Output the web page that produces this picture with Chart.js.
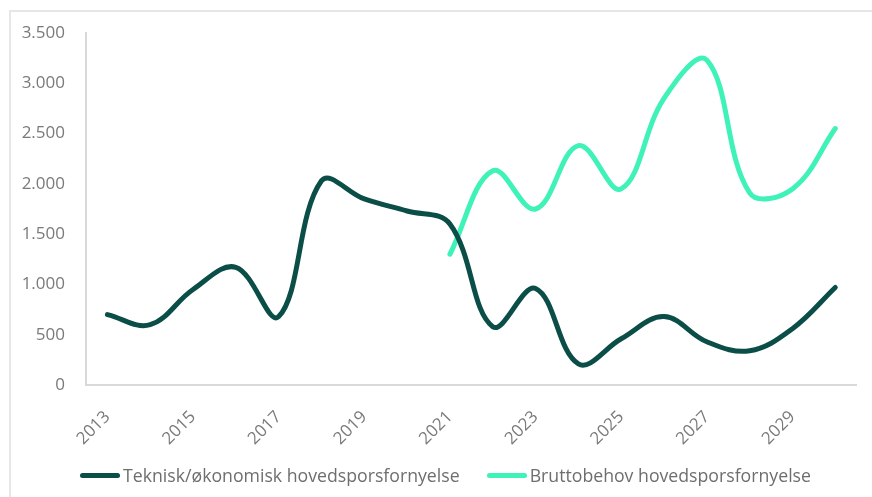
<!DOCTYPE html>
<html>
<head>
<meta charset="utf-8">
<script src="https://cdn.jsdelivr.net/npm/chart.js@4/dist/chart.umd.min.js"></script>
<style>
  html, body { margin: 0; padding: 0; background: #fff; }
  #wrap { position: relative; width: 872px; height: 497px; overflow: hidden; }
  #frame { position: absolute; left: 9px; top: 10px; width: 900px; height: 600px;
           border-top: 2px solid #e6e6e6; border-left: 2px solid #e6e6e6; }
  canvas { position: absolute; left: 0; top: 0; }
  #legend { position: absolute; left: 80px; top: 462px; display: flex; align-items: center;
            font-family: 'Open Sans', 'Noto Sans', sans-serif; font-size: 17.7px; color: #6e6e6e;
            white-space: nowrap; line-height: 26px; }
  .item { display: flex; align-items: center; }
  .item + .item { margin-left: 27px; }
  .swatch { display: inline-block; width: 40px; height: 5px; border-radius: 2.5px; margin-right: 3px; }
</style>
</head>
<body>
<div id="wrap">
  <div id="frame"></div>
  <canvas id="c" width="872" height="497"></canvas>
  <div id="legend"></div>
</div>
<script>
const years = ["2013","2014","2015","2016","2017","2018","2019","2020","2021","2022","2023","2024","2025","2026","2027","2028","2029","2030"];
const teknisk = [700, 600, 950, 1170, 680, 2030, 1850, 1730, 1600, 580, 960, 210, 460, 680, 430, 340, 560, 970];
const brutto = [null, null, null, null, null, null, null, null, 1300, 2130, 1750, 2380, 1950, 2850, 3230, 1910, 1950, 2550];
const yTicks = [0, 500, 1000, 1500, 2000, 2500, 3000, 3500];
const seriesNames = ["Teknisk/økonomisk hovedsporsfornyelse", "Bruttobehov hovedsporsfornyelse"];

const darkCol = "#0b4e48";
const lightCol = "#3ff2b7";
const textCol = "#7a7a7a";
const fontFam = "'Open Sans', 'Noto Sans', sans-serif";

const chart = new Chart(document.getElementById("c"), {
  type: "line",
  data: {
    labels: years,
    datasets: [
      { label: seriesNames[0], data: teknisk, borderColor: darkCol, backgroundColor: darkCol,
        borderWidth: 5, pointRadius: 0, tension: 0.38, borderCapStyle: "round", fill: false },
      { label: seriesNames[1], data: brutto, borderColor: lightCol, backgroundColor: lightCol,
        borderWidth: 5, pointRadius: 0, tension: 0.38, borderCapStyle: "round", fill: false }
    ]
  },
  options: {
    responsive: false,
    animation: false,
    layout: { padding: { left: 0, right: 11, top: 33, bottom: 46 } },
    plugins: {
      tooltip: { enabled: false },
      legend: { display: false }
    },
    scales: {
      x: {
        type: "category",
        offset: true,
        grid: { display: false, drawTicks: false },
        border: { display: true, color: "#d9d9d9", width: 2 },
        ticks: {
          autoSkip: false,
          minRotation: 45,
          maxRotation: 45,
          padding: 22,
          color: textCol,
          font: { family: fontFam, size: 17 },
          callback: function(val, idx) { return idx % 2 === 0 ? years[idx] : ""; }
        },
        afterFit: (s) => { s.height = 66; }
      },
      y: {
        min: 0,
        max: 3500,
        grid: { display: false, drawTicks: false },
        border: { display: true, color: "#d9d9d9", width: 2 },
        afterBuildTicks: (s) => { s.ticks = yTicks.map(v => ({ value: v })); },
        ticks: {
          padding: 21,
          color: textCol,
          font: { family: fontFam, size: 17 },
          callback: (v) => v.toLocaleString("de-DE")
        },
        afterFit: (s) => { s.width = 86; }
      }
    }
  }
});

// Legend built from the chart's own datasets
const legendEl = document.getElementById("legend");
chart.data.datasets.forEach(ds => {
  const item = document.createElement("div");
  item.className = "item";
  const sw = document.createElement("span");
  sw.className = "swatch";
  sw.style.background = ds.borderColor;
  const tx = document.createElement("span");
  tx.textContent = ds.label;
  item.appendChild(sw);
  item.appendChild(tx);
  legendEl.appendChild(item);
});
</script>
</body>
</html>
